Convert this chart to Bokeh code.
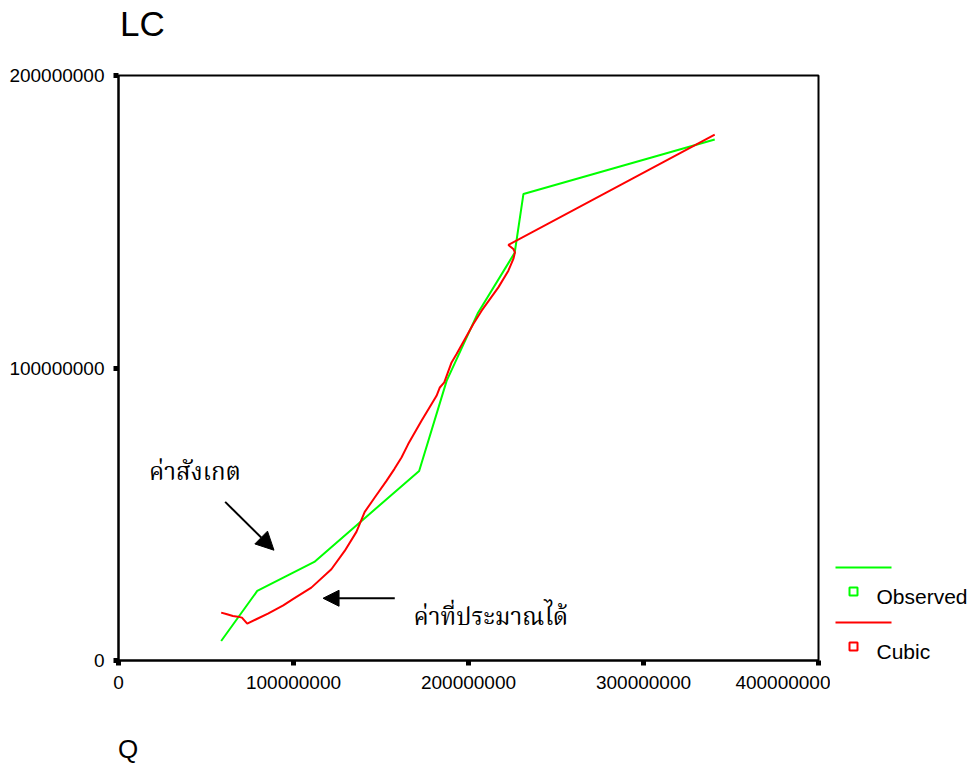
from bokeh.plotting import figure
from bokeh.models import Range1d, FixedTicker, BasicTickFormatter, Label, Arrow, NormalHead, Div
from bokeh.layouts import row, column
from bokeh.embed import file_html
from bokeh.resources import INLINE
from bokeh.core.properties import value

# Observed series: Q against LC, in data order
q_obs = [58.67e6, 79.28e6, 111.9e6, 171.8e6, 187.5e6, 205.2e6, 226.4e6, 231.4e6, 340.7e6]
lc_obs = [6.67e6, 23.78e6, 33.7e6, 64.8e6, 95.6e6, 118.6e6, 139.4e6, 159.5e6, 178.1e6]

# Cubic fit evaluated at each observation
q_fit = [58.67e6, 61.53e6, 65.37e6, 68.23e6, 70.52e6, 73.56e6, 78.71e6, 85.40e6, 94.16e6,
         99.89e6, 110.19e6, 121.64e6, 129.25e6, 135.95e6, 140.70e6, 146.42e6, 153.12e6,
         157.70e6, 161.71e6, 165.54e6, 173.15e6, 181.74e6, 183.63e6, 186.15e6, 190.33e6,
         193.19e6, 202.75e6, 207.50e6, 217.06e6, 222.78e6, 225.64e6, 226.56e6, 225.64e6,
         222.78e6, 340.70e6]
lc_fit = [16.36e6, 15.91e6, 15.23e6, 14.99e6, 14.65e6, 12.59e6, 14.10e6, 16.01e6, 18.82e6,
          21.04e6, 24.91e6, 31.20e6, 37.47e6, 43.97e6, 50.81e6, 55.71e6, 61.42e6,
          65.53e6, 69.39e6, 73.98e6, 81.95e6, 90.50e6, 93.34e6, 95.06e6, 101.90e6,
          104.77e6, 115.04e6, 119.59e6, 127.56e6, 133.28e6, 137.28e6, 139.54e6, 140.70e6,
          142.07e6, 179.81e6]

x_ticks = [0, 100000000, 200000000, 300000000, 400000000]
y_ticks = [0, 100000000, 200000000]

series_names = ["Observed", "Cubic"]
series_colors = ["#00ff00", "#ff0000"]

LATIN = "Liberation Sans"
THAI = "Noto Serif Thai, Noto Sans Thai, Norasi, Garuda, Loma, serif"

HEADER_H, PLOT_H, FOOTER_H = 65, 635, 67
TOP_PAD, BOTTOM_PAD = 10, 40

# Chart title (LC) and horizontal-axis name (Q)
header = Div(text=("<div style=\"margin:0; padding:6px 0 0 120px; font-family:'Liberation Sans';"
                   " font-size:35px; line-height:1; color:black;\">LC</div>"),
             width=974, height=HEADER_H, margin=0)
footer = Div(text=("<div style=\"margin:0; padding:36px 0 0 118px; font-family:'Liberation Sans';"
                   " font-size:26px; line-height:1; color:black;\">Q</div>"),
             width=974, height=FOOTER_H, margin=0)

p = figure(width=830, height=PLOT_H,
           x_range=Range1d(0, 400000000), y_range=Range1d(0, 200000000),
           output_backend="svg", toolbar_location=None,
           min_border_left=118, min_border_right=12,
           min_border_top=TOP_PAD, min_border_bottom=BOTTOM_PAD)
p.xgrid.visible = False
p.ygrid.visible = False
p.outline_line_color = "black"
p.outline_line_width = 2
p.background_fill_color = "white"

for ax, ticks, standoff in ((p.xaxis[0], x_ticks, 10), (p.yaxis[0], y_ticks, 9)):
    ax.ticker = FixedTicker(ticks=ticks)
    ax.formatter = BasicTickFormatter(use_scientific=False)
    ax.axis_line_color = "black"
    ax.axis_line_width = 2
    ax.major_tick_line_color = "black"
    ax.major_tick_line_width = 5
    ax.major_tick_in = 0
    ax.major_tick_out = 5
    ax.minor_tick_in = 0
    ax.minor_tick_out = 0
    ax.major_label_standoff = standoff
    ax.major_label_text_font = LATIN
    ax.major_label_text_font_size = "19px"
    ax.major_label_text_color = "black"

p.line(q_obs, lc_obs, line_color=series_colors[0], line_width=2)
p.line(q_fit, lc_fit, line_color=series_colors[1], line_width=2)

# Callouts pointing at the two curves
p.add_layout(Arrow(end=NormalHead(size=18, fill_color="black", line_color="black"),
                   x_start=60.96e6, y_start=54.23e6, x_end=88.84e6, y_end=37.71e6,
                   line_color="black", line_width=2))
p.add_layout(Arrow(end=NormalHead(size=16, fill_color="black", line_color="black"),
                   x_start=157.87e6, y_start=21.28e6, x_end=116.89e6, y_end=21.28e6,
                   line_color="black", line_width=2))
p.add_layout(Label(x=17.46e6, y=63.8e6, text="ค่าสังเกต", text_font=THAI,
                   text_font_size="24px", text_color="black", text_baseline="alphabetic"))
p.add_layout(Label(x=168.6e6, y=14.2e6, text="ค่าที่ประมาณได้", text_font=THAI,
                   text_font_size="24px", text_color="black", text_baseline="alphabetic"))

# Legend panel to the right of the chart; its ranges are in page pixels
leg = figure(width=144, height=PLOT_H, x_range=Range1d(830, 974), y_range=Range1d(660, 75),
             output_backend="svg", toolbar_location=None,
             min_border_left=0, min_border_right=0,
             min_border_top=TOP_PAD, min_border_bottom=BOTTOM_PAD,
             x_axis_location=None, y_axis_location=None, outline_line_color=None)
leg.grid.visible = False
row_top, row_step = 567, 55
for i, (name, color) in enumerate(zip(series_names, series_colors)):
    y0 = row_top + i * row_step
    leg.line([835, 891], [y0, y0], line_color=color, line_width=2)
    leg.scatter([853], [y0 + 24], marker="square", size=8, line_color=color,
                line_width=2, fill_color=None)
    leg.text([876], [y0 + 29], text=[name], text_font=value(LATIN), text_font_size="21px",
             text_color="black", text_baseline="alphabetic")

layout = column(header, row(p, leg), footer)
open("out.html", "w").write(file_html(layout, INLINE))
